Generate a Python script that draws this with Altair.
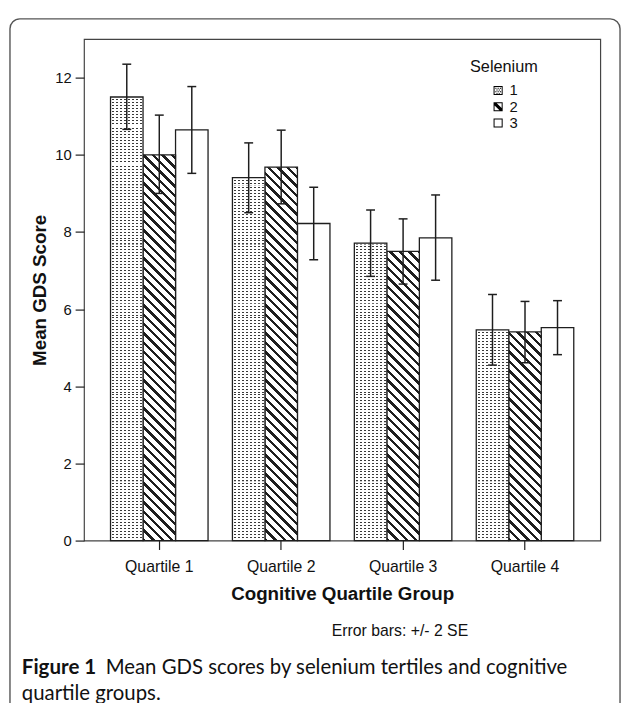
import altair as alt

# ---------------- data ----------------
quartiles = ["Quartile 1", "Quartile 2", "Quartile 3", "Quartile 4"]
series = ["1", "2", "3"]

mean_1 = [11.50, 9.41, 7.71, 5.46]
mean_2 = [10.00, 9.68, 7.50, 5.41]
mean_3 = [10.65, 8.22, 7.85, 5.52]

upper_1 = [12.35, 10.31, 8.57, 6.38]
upper_2 = [11.03, 10.64, 8.34, 6.20]
upper_3 = [11.77, 9.16, 8.96, 6.22]

lower_1 = [10.66, 8.50, 6.85, 4.55]
lower_2 = [9.00, 8.73, 6.65, 4.61]
lower_3 = [9.52, 7.28, 6.75, 4.82]

y_ticks = [0, 2, 4, 6, 8, 10, 12]

legend_title = "Selenium"
x_title = "Cognitive Quartile Group"
y_title = "Mean GDS Score"
note_text = "Error bars: +/- 2 SE"
caption_bold = "Figure 1"
caption_line1 = "Mean GDS scores by selenium tertiles and cognitive"
caption_line2 = "quartile groups."

# ---------------- layout / style ----------------
W, H = 523, 508
Y_MAX = 13
PAD_IN, PAD_OUT = 0.2, 0.2175
STEP = W / (len(quartiles) - PAD_IN + 2 * PAD_OUT)
BAR_W = STEP * (1 - PAD_IN) / len(series)
PX_PER_UNIT = H / Y_MAX
SEG_UNITS = 60 / PX_PER_UNIT        # texture tiles of 60 px height
INK = "#1e1e1e"
FONT = "Liberation Sans"
CAP_FONT = "Lato"


def stripe_stops(n_periods, frac_on, on, off):
    stops = []
    i = 0
    while i < n_periods:
        a = i / n_periods
        b = min((i + frac_on) / n_periods, 1.0)
        c = min((i + 1) / n_periods, 1.0)
        stops += [
            {"offset": round(a, 5), "color": on},
            {"offset": round(b, 5), "color": on},
            {"offset": round(b, 5), "color": off},
            {"offset": round(c, 5), "color": off},
        ]
        i += 1
    return stops


def hatch_fill(h):
    # diagonal "\" stripes at 45 degrees in pixel space (bbox units)
    w = BAR_W
    k = (w + h) / (w * w + h * h)
    n = (w + h) / 9.5
    return {"gradient": "linear", "x1": 0, "y1": 1, "x2": w * k, "y2": 1 - h * k,
            "stops": stripe_stops(n, 0.36, INK, "#ffffff")}


def hstripe_fill(h):
    n = h / 3.0
    return {"gradient": "linear", "x1": 0, "y1": 0, "x2": 0, "y2": 1,
            "stops": stripe_stops(n, 2.0 / 3.0, "#ffffff", "rgba(255,255,255,0)")}


def vstripe_fill():
    n = BAR_W / 4.0
    return {"gradient": "linear", "x1": 0, "y1": 0, "x2": 1, "y2": 0,
            "stops": stripe_stops(n, 0.45, "#ffffff", "rgba(255,255,255,0)")}


means = {"1": mean_1, "2": mean_2, "3": mean_3}
uppers = {"1": upper_1, "2": upper_2, "3": upper_3}
lowers = {"1": lower_1, "2": lower_2, "3": lower_3}

records = []
tiles = []          # texture tiles for the dotted series (style only)
for s in series:
    for i, q in enumerate(quartiles):
        m = means[s][i]
        rec = {"quartile": q, "series": s, "mean": m,
               "lo": lowers[s][i], "hi": uppers[s][i]}
        if s == "2":
            rec["hatch"] = hatch_fill(m * PX_PER_UNIT)
        if s == "1":
            rec["vstr"] = vstripe_fill()
            k = 0
            while k * SEG_UNITS < m:
                a = k * SEG_UNITS
                b = min((k + 1) * SEG_UNITS, m)
                tiles.append({"quartile": q, "series": s, "s0": a, "s1": b,
                              "hstr": hstripe_fill((b - a) * PX_PER_UNIT)})
                k += 1
        records.append(rec)

data_all = alt.Data(values=records)


def subset(s):
    return alt.Data(values=[r for r in records if r["series"] == s])


x_enc = alt.X(
    "quartile:N", sort=quartiles, title=x_title,
    scale=alt.Scale(domain=quartiles, paddingInner=PAD_IN, paddingOuter=PAD_OUT),
    axis=alt.Axis(labelAngle=0, tickSize=9, tickColor=INK, tickWidth=1.2, domain=False,
                  labelFontSize=16, labelColor="#111", labelPadding=9, labelFont=FONT,
                  titleFont=FONT, titleFontSize=19, titleFontWeight="bold", titleColor="#111",
                  titleX=W / 2, titleY=54, titleBaseline="middle", titleAlign="center"),
)
xo_enc = alt.XOffset("series:N", sort=series,
                     scale=alt.Scale(domain=series, paddingInner=0, paddingOuter=0))
y_scale = alt.Scale(domain=[0, Y_MAX], nice=False, zero=True)
y_axis = alt.Axis(values=y_ticks, tickSize=9, tickColor=INK, tickWidth=1.2, domain=False,
                  grid=False, labelFontSize=15, labelColor="#111", labelPadding=4,
                  labelFont=FONT, titleFont=FONT, titleFontSize=19, titleFontWeight="bold",
                  titleColor="#111", titleX=-45, titleY=H / 2, titleAngle=270,
                  titleBaseline="middle", titleAlign="center")
y_mean = alt.Y("mean:Q", scale=y_scale, axis=y_axis, title=y_title)
y_lo = alt.Y("lo:Q", scale=y_scale, axis=y_axis, title=y_title)

# outer rounded frame of the figure panel
frame = alt.Chart(alt.Data(values=[{"k": 0}])).mark_rect(
    filled=False, stroke="#555555", strokeWidth=1.4, cornerRadius=10
).encode(x=alt.value(-75), x2=alt.value(543), y=alt.value(-20.5), y2=alt.value(720))

bars3 = alt.Chart(subset("3")).mark_bar(fill="#ffffff", stroke=INK, strokeWidth=1.3).encode(
    x=x_enc, xOffset=xo_enc, y=y_mean)
bars2 = alt.Chart(subset("2")).mark_bar(stroke=INK, strokeWidth=1.3).encode(
    x=x_enc, xOffset=xo_enc, y=y_mean, fill=alt.Fill("hatch:N", scale=None))
bars1_base = alt.Chart(subset("1")).mark_bar(fill="#3a3a3a", strokeWidth=0).encode(
    x=x_enc, xOffset=xo_enc, y=y_mean)
bars1_h = alt.Chart(alt.Data(values=tiles)).mark_bar(strokeWidth=0).encode(
    x=x_enc, xOffset=xo_enc,
    y=alt.Y("s0:Q", scale=y_scale, axis=y_axis, title=y_title), y2="s1:Q",
    fill=alt.Fill("hstr:N", scale=None))
bars1_v = alt.Chart(subset("1")).mark_bar(strokeWidth=0).encode(
    x=x_enc, xOffset=xo_enc, y=y_mean, fill=alt.Fill("vstr:N", scale=None))
bars1_line = alt.Chart(subset("1")).mark_bar(filled=False, color=INK, strokeWidth=1.3).encode(
    x=x_enc, xOffset=xo_enc, y=y_mean)

err = alt.Chart(data_all).mark_rule(color=INK, strokeWidth=1.5).encode(
    x=x_enc, xOffset=xo_enc, y=y_lo, y2="hi:Q")
cap_lo = alt.Chart(data_all).mark_tick(color=INK, thickness=1.5, size=9, opacity=1).encode(
    x=x_enc, xOffset=xo_enc, y=y_lo)
cap_hi = alt.Chart(data_all).mark_tick(color=INK, thickness=1.5, size=9, opacity=1).encode(
    x=x_enc, xOffset=xo_enc, y=alt.Y("hi:Q", scale=y_scale, axis=y_axis, title=y_title))

# legend symbols (custom paths in the [-1, 1] square)
ring = "M-1,-1L1,-1L1,1L-1,1Z M-0.78,-0.78L-0.78,0.78L0.78,0.78L0.78,-0.78Z"
dots = ""
for j, yy in enumerate([-0.6, -0.2, 0.2, 0.55]):
    xs = [-0.62, -0.12, 0.38] if j % 2 == 0 else [-0.37, 0.13]
    for xx in xs:
        dots += f" M{xx},{yy}L{xx + 0.26},{yy}L{xx + 0.26},{yy + 0.2}L{xx},{yy + 0.2}Z"
sym1 = ring + dots
sym2 = ring + " M-0.78,-0.78L-0.3,-0.78L0.78,0.3L0.78,0.78L0.3,0.78L-0.78,-0.3Z"
sym3 = ring

legend_layer = alt.Chart(data_all).transform_filter("datum.mean < 0").mark_point(
    filled=True, color="black", opacity=1, size=85
).encode(
    x=x_enc, y=y_mean,
    shape=alt.Shape("series:N", sort=series,
                    scale=alt.Scale(domain=series, range=[sym1, sym2, sym3]),
                    legend=alt.Legend(title=legend_title, orient="none", legendX=391,
                                      legendY=20, titleFont=FONT, titleFontSize=16.5,
                                      titleFontWeight="normal", titleColor="#111",
                                      titlePadding=8, labelFont=FONT, labelFontSize=15,
                                      labelColor="#111", symbolSize=85,
                                      symbolStrokeWidth=0, symbolFillColor="black",
                                      rowPadding=0.5, symbolOffset=21, labelOffset=4)),
)

one = alt.Data(values=[{"k": 0}])
note = alt.Chart(one).mark_text(align="left", baseline="middle", font=FONT, fontSize=16,
                                color="#111").encode(
    x=alt.value(251), y=alt.value(600), text=alt.value(note_text))
cap_b = alt.Chart(one).mark_text(align="left", baseline="middle", font=CAP_FONT,
                                 fontSize=20.8, fontWeight="bold", color="#111").encode(
    x=alt.value(-63), y=alt.value(637), text=alt.value(caption_bold))
cap_r = alt.Chart(one).mark_text(align="left", baseline="middle", font=CAP_FONT,
                                 fontSize=20.6, color="#111").encode(
    x=alt.value(22), y=alt.value(637), text=alt.value(caption_line1))
cap_2 = alt.Chart(one).mark_text(align="left", baseline="middle", font=CAP_FONT,
                                 fontSize=20.6, color="#111").encode(
    x=alt.value(-63), y=alt.value(663), text=alt.value(caption_line2))

chart = alt.layer(
    frame, bars3, bars2, bars1_base, bars1_h, bars1_v, bars1_line,
    err, cap_lo, cap_hi, legend_layer, note, cap_b, cap_r, cap_2,
).properties(
    width=W, height=H,
    autosize=alt.AutoSizeParams(type="none"),
    padding={"left": 77, "top": 27, "right": 22, "bottom": 160},
    background="white",
).configure_view(stroke="#444444", strokeWidth=1.2)

chart.save("out.html", embed_options={"renderer": "svg", "actions": False})
